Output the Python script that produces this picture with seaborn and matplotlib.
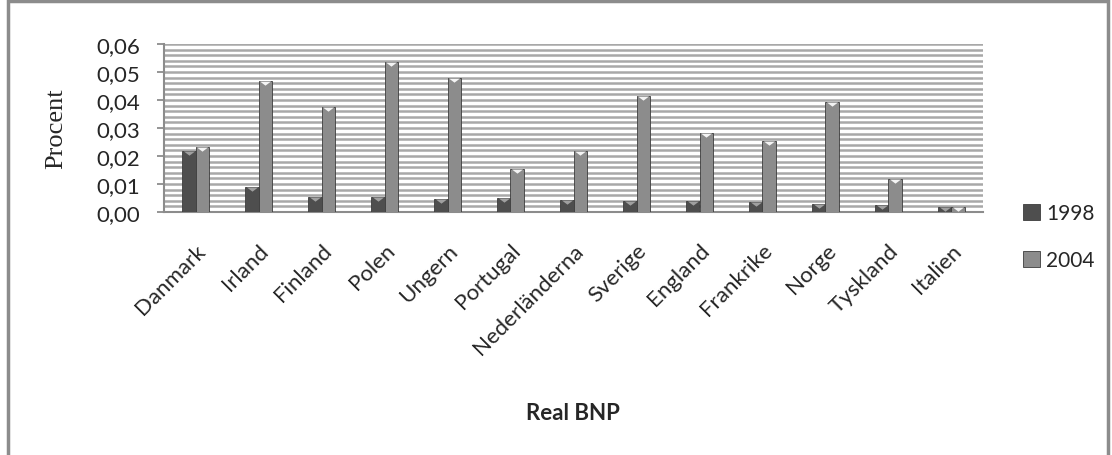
"""
Real BNP per land, 1998 och 2004 (stapeldiagram i gråskala).
"""

import pandas as pd
import matplotlib
matplotlib.use("Agg")
import matplotlib.pyplot as plt
from matplotlib.ticker import MultipleLocator, FuncFormatter
from matplotlib.patches import Rectangle
import seaborn as sns

# --- DATA ---
lander = ["Danmark", "Irland", "Finland", "Polen", "Ungern", "Portugal",
          "Nederländerna", "Sverige", "England", "Frankrike", "Norge",
          "Tyskland", "Italien"]
varden_1998 = [0.0218, 0.0090, 0.0054, 0.0054, 0.0048, 0.0049, 0.0043,
               0.0040, 0.0040, 0.0036, 0.0030, 0.0025, 0.0018]
varden_2004 = [0.0232, 0.0468, 0.0375, 0.0536, 0.0480, 0.0152, 0.0218,
               0.0414, 0.0282, 0.0252, 0.0393, 0.0118, 0.0018]
ar = ["1998", "2004"]

df = pd.DataFrame({
    "Land": lander * 2,
    "År": [ar[0]] * len(lander) + [ar[1]] * len(lander),
    "Värde": varden_1998 + varden_2004,
})

sns.set_style("white")
plt.rcParams["font.family"] = ["Lato", "DejaVu Sans"]

W, H = 1112, 456
fig = plt.figure(figsize=(W / 100, H / 100), dpi=100)
ax = fig.add_axes([164 / W, 1 - 213 / H, (983 - 164) / W, (213 - 45) / H])

farger = {"1998": "#4e4e4e", "2004": "#8c8c8c"}
topp = {"1998": "#a0a0a0", "2004": "#f4f4f4"}
sns.barplot(data=df, x="Land", y="Värde", hue="År", palette=farger,
            width=0.42, gap=0, edgecolor="#3c3c3c", linewidth=0.6,
            ax=ax, legend=False, zorder=3)

# ljus triangel överst på varje stapel
triangel = [(-1, 0), (1, 0), (0, -0.75)]
for i, a in enumerate(ar):
    for p in ax.containers[i].patches:
        ax.plot(p.get_x() + p.get_width() / 2, p.get_height(), marker=triangel,
                markersize=8, color=topp[a], markeredgewidth=0, zorder=4,
                clip_on=False)

# ax.plot ovan slår på autoscale igen -> lås x-axeln till kategorierna
ax.set_xlim(-0.5, len(lander) - 0.5)
ax.set_ylim(0, 0.06)
ax.yaxis.set_major_locator(MultipleLocator(0.01))
ax.yaxis.set_minor_locator(MultipleLocator(0.002))
ax.yaxis.set_major_formatter(FuncFormatter(lambda v, _: f"{v:.2f}".replace(".", ",")))
ax.grid(True, which="both", axis="y", color="#a8a8a8", linewidth=1.8, zorder=0)
ax.set_axisbelow(True)

for s in ["top", "right"]:
    ax.spines[s].set_visible(False)
for s in ["left", "bottom"]:
    ax.spines[s].set_color("#8c8c8c")
    ax.spines[s].set_linewidth(1.5)

ax.tick_params(axis="y", which="major", labelsize=16, length=5, width=1.3,
               color="#8c8c8c", pad=12, left=True)
ax.tick_params(axis="y", which="minor", length=0)
ax.tick_params(axis="x", labelsize=16, length=0, pad=20)
plt.setp(ax.get_xticklabels(), rotation=45, ha="right", rotation_mode="anchor")

ax.set_xlabel("")
ax.set_ylabel("Procent", fontsize=19, family=["Liberation Serif"])
ax.yaxis.set_label_coords(-0.118, 0.5)
fig.text(573 / W, 1 - 414 / H, "Real BNP", fontsize=16, fontweight="bold",
         ha="center", va="center")

# legend till höger
handles = [Rectangle((0, 0), 1, 1, facecolor=farger[a], edgecolor="#3c3c3c",
                     linewidth=0.6) for a in ar]
fig.legend(handles, ar, loc="upper left", bbox_to_anchor=(1015 / W, 1 - 196 / H),
           frameon=False, fontsize=15, handlelength=0.8, handleheight=0.8,
           labelspacing=1.3, handletextpad=0.3, borderaxespad=0)

# ram runt hela figuren
fig.add_artist(Rectangle((8 / W, -0.05), 1100 / W, 1.05 - 2 / H,
                         transform=fig.transFigure, fill=False,
                         edgecolor="#8c8c8c", linewidth=2.5))

plt.savefig("out.png", dpi=100)
